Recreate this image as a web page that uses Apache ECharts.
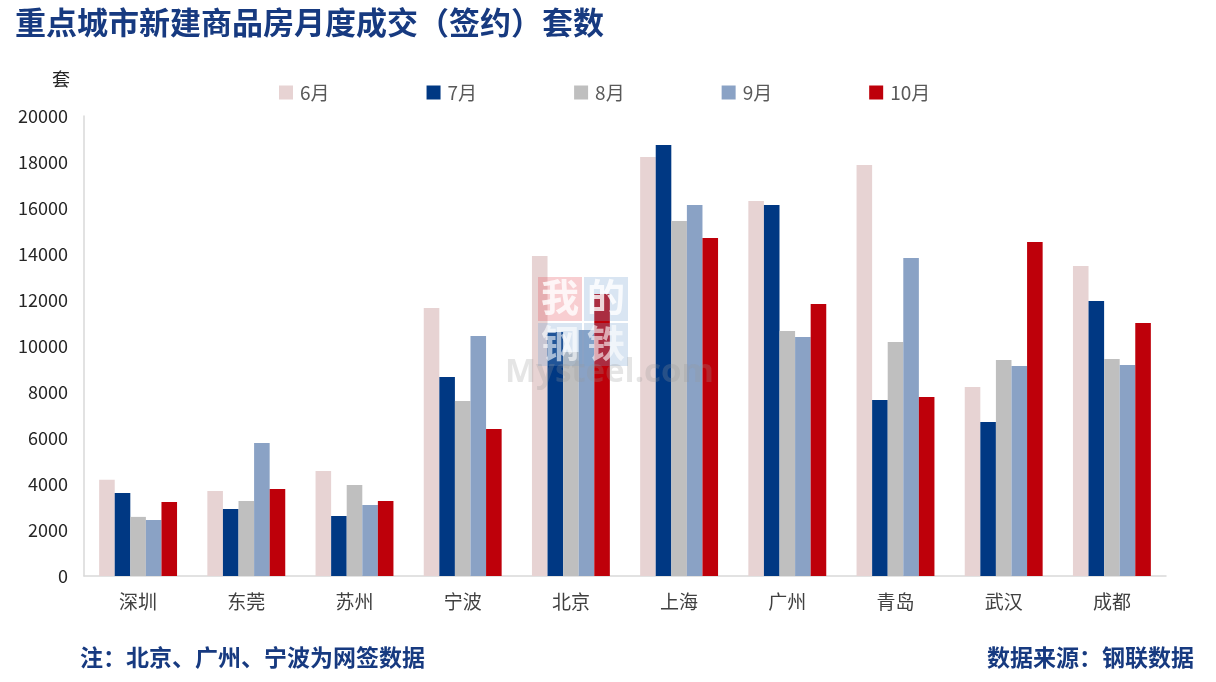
<!DOCTYPE html>
<html>
<head>
<meta charset="utf-8">
<script src="https://cdn.jsdelivr.net/npm/echarts@6/dist/echarts.min.js"></script>
<style>
  html, body { margin: 0; padding: 0; background: #fff; }
  #chart { width: 1216px; height: 682px; }
</style>
</head>
<body>
<div id="chart"></div>
<script>
const cities = ['深圳', '东莞', '苏州', '宁波', '北京', '上海', '广州', '青岛', '武汉', '成都']
const months = ['6月', '7月', '8月', '9月', '10月']

// 各月成交套数
const jun = [4180, 3700, 4570, 11650, 13910, 18220, 16300, 17870, 8220, 13480]
const jul = [3610, 2910, 2610, 8650, 10610, 18740, 16130, 7650, 6700, 11960]
const aug = [2570, 3260, 3960, 7610, 9740, 15430, 10650, 10170, 9390, 9430]
const sep = [2430, 5780, 3090, 10430, 10700, 16130, 10390, 13830, 9130, 9170]
const oct = [3220, 3780, 3260, 6390, 12260, 14700, 11830, 7780, 14520, 11000]

const colors = ['#E7D3D3', '#003883', '#BFBFBF', '#8AA2C5', '#BE000A']
const seriesData = [jun, jul, aug, sep, oct]

const FONT = '"Noto Sans CJK SC", "Noto Sans", sans-serif'
const chart = echarts.init(document.getElementById('chart'))

chart.setOption({
  backgroundColor: '#fff',
  animation: false,
  textStyle: { fontFamily: FONT },
  title: {
    text: '重点城市新建商品房月度成交（签约）套数',
    left: 10,
    top: 2,
    textStyle: { fontSize: 31, fontWeight: 'bold', color: '#173A80', fontFamily: FONT },
  },
  legend: {
    top: 78,
    left: 274,
    itemWidth: 14,
    itemHeight: 14,
    itemGap: 97,
    icon: 'rect',
    textStyle: { fontSize: 19, color: '#595959', padding: [0, 0, 0, 2] },
    data: months,
  },
  grid: { left: 84, right: 50, top: 116, bottom: 106 },
  xAxis: {
    type: 'category',
    data: cities,
    axisLine: { lineStyle: { color: '#D9D9D9', width: 1.5 } },
    axisTick: { show: false },
    axisLabel: { fontSize: 19, color: '#404040', margin: 16 },
  },
  yAxis: {
    type: 'value',
    min: 0,
    max: 20000,
    interval: 2000,
    name: '套',
    nameLocation: 'end',
    nameGap: 28,
    nameTextStyle: { fontSize: 18, color: '#262626', align: 'right', padding: [0, 14, 0, 0] },
    axisLine: { show: true, lineStyle: { color: '#D9D9D9', width: 1.5 } },
    axisTick: { show: false },
    splitLine: { show: false },
    axisLabel: { fontSize: 18, color: '#262626', margin: 16, formatter: v => String(v) },
  },
  series: months.map((m, i) => ({
    name: m,
    type: 'bar',
    data: seriesData[i],
    barGap: '0%',
    barCategoryGap: '28%',
    itemStyle: { color: colors[i] },
  })),
  graphic: [
    // 水印
    { type: 'rect', left: 538, top: 277, shape: { width: 44, height: 44 }, style: { fill: 'rgba(230,80,90,0.28)' }, z: 100 },
    { type: 'rect', left: 584, top: 277, shape: { width: 44, height: 44 }, style: { fill: 'rgba(120,160,210,0.28)' }, z: 100 },
    { type: 'rect', left: 538, top: 323, shape: { width: 44, height: 43 }, style: { fill: 'rgba(120,160,210,0.28)' }, z: 100 },
    { type: 'rect', left: 584, top: 323, shape: { width: 44, height: 43 }, style: { fill: 'rgba(120,160,210,0.28)' }, z: 100 },
    { type: 'text', left: 541, top: 278, style: { text: '我', fill: 'rgba(255,255,255,0.8)', font: 'bold 38px "Noto Sans CJK SC"' }, z: 101 },
    { type: 'text', left: 587, top: 278, style: { text: '的', fill: 'rgba(255,255,255,0.8)', font: 'bold 38px "Noto Sans CJK SC"' }, z: 101 },
    { type: 'text', left: 541, top: 324, style: { text: '钢', fill: 'rgba(255,255,255,0.6)', font: 'bold 38px "Noto Sans CJK SC"' }, z: 101 },
    { type: 'text', left: 587, top: 324, style: { text: '铁', fill: 'rgba(255,255,255,0.6)', font: 'bold 38px "Noto Sans CJK SC"' }, z: 101 },
    { type: 'text', left: 505, top: 356, style: { text: 'Mysteel.com', font: 'bold 33px "Open Sans"', fill: 'rgba(150,150,150,0.25)' }, z: 101 },
    // 脚注
    {
      type: 'text', left: 80, top: 646,
      style: { text: '注：北京、广州、宁波为网签数据', font: 'bold 23px "Noto Sans CJK SC"', fill: '#173A80' },
    },
    {
      type: 'text', right: 22, top: 646,
      style: { text: '数据来源：钢联数据', font: 'bold 23px "Noto Sans CJK SC"', fill: '#173A80' },
    },
  ],
})
</script>
</body>
</html>
